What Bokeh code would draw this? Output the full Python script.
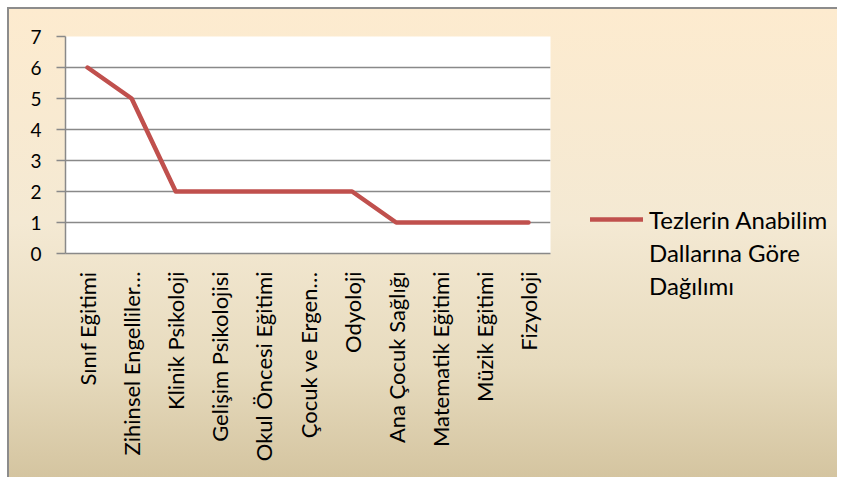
from math import pi
from bokeh.plotting import figure
from bokeh.models import FactorRange, Range1d, Legend, LegendItem, FixedTicker
from bokeh.embed import file_html
from bokeh.resources import INLINE

categories = ["Sınıf Eğitimi", "Zihinsel Engelliler…", "Klinik Psikoloji",
              "Gelişim Psikolojisi", "Okul Öncesi Eğitimi", "Çocuk ve Ergen…",
              "Odyoloji", "Ana Çocuk Sağlığı", "Matematik Eğitimi",
              "Müzik Eğitimi", "Fizyoloji"]
counts = [6, 5, 2, 2, 2, 2, 2, 1, 1, 1, 1]
y_ticks = [0, 1, 2, 3, 4, 5, 6, 7]
series_lines = ["Tezlerin Anabilim", "Dallarına Göre", "Dağılımı"]

FONT = "Lato"
GRID = "#898989"
RED = "#C0504D"

p = figure(frame_width=485, frame_height=217,
           x_range=FactorRange(*categories), y_range=Range1d(0, 7),
           output_backend="svg", toolbar_location=None,
           min_border_left=65, min_border_right=0,
           min_border_top=36, min_border_bottom=224)

p.styles = {
    "background": ("linear-gradient(#8c8c8c,#8c8c8c) 7px 7px / 100% 2px no-repeat, "
                   "linear-gradient(#8c8c8c,#8c8c8c) 7px 7px / 2px 100% no-repeat, "
                   "linear-gradient(to bottom, #FDEBCF 0%, #F4E9D3 45%, #E7DBBE 75%, #D3C39E 100%) "
                   "8px 8px / 100% 100% no-repeat, white"),
    "max-width": "837px",
    "max-height": "477px",
    "overflow": "hidden",
}
p.border_fill_color = None
p.background_fill_color = "white"
p.outline_line_color = None

r = p.line(categories, counts, line_color=RED, line_width=4.5,
           line_cap="round", line_join="round")
# empty renderer, only used to give the wrapped legend lines a slot
blank = p.line([], [], line_alpha=0)

# grid
p.xgrid.grid_line_color = None
p.ygrid.grid_line_color = GRID
p.ygrid.grid_line_width = 1.5

# y axis
p.yaxis.ticker = FixedTicker(ticks=y_ticks)
p.yaxis.axis_line_color = GRID
p.yaxis.axis_line_width = 1.5
p.yaxis.major_tick_line_color = GRID
p.yaxis.major_tick_line_width = 1.5
p.yaxis.major_tick_out = 9
p.yaxis.major_tick_in = 0
p.yaxis.minor_tick_line_color = None
p.yaxis.major_label_standoff = 15
p.yaxis.major_label_text_font = FONT
p.yaxis.major_label_text_font_size = "19px"
p.yaxis.major_label_text_color = "black"

# x axis
p.xaxis.axis_line_color = GRID
p.xaxis.axis_line_width = 1.5
p.xaxis.major_tick_line_color = None
p.xaxis.minor_tick_line_color = None
p.xaxis.major_label_orientation = pi / 2
p.xaxis.major_label_standoff = 12
p.xaxis.major_label_text_font = FONT
p.xaxis.major_label_text_font_size = "22px"
p.xaxis.major_label_text_color = "black"

items = [LegendItem(label=series_lines[0], renderers=[r])]
items += [LegendItem(label=t, renderers=[blank]) for t in series_lines[1:]]
legend = Legend(items=items,
                location=(40, -47), orientation="vertical",
                glyph_width=53, glyph_height=30, label_height=30,
                label_standoff=6, padding=0, margin=0, spacing=3,
                border_line_color=None, background_fill_color=None,
                background_fill_alpha=0,
                label_text_font=FONT, label_text_font_size="24px",
                label_text_color="black")
p.add_layout(legend, "right")

open("out.html", "w").write(file_html(p, INLINE))
